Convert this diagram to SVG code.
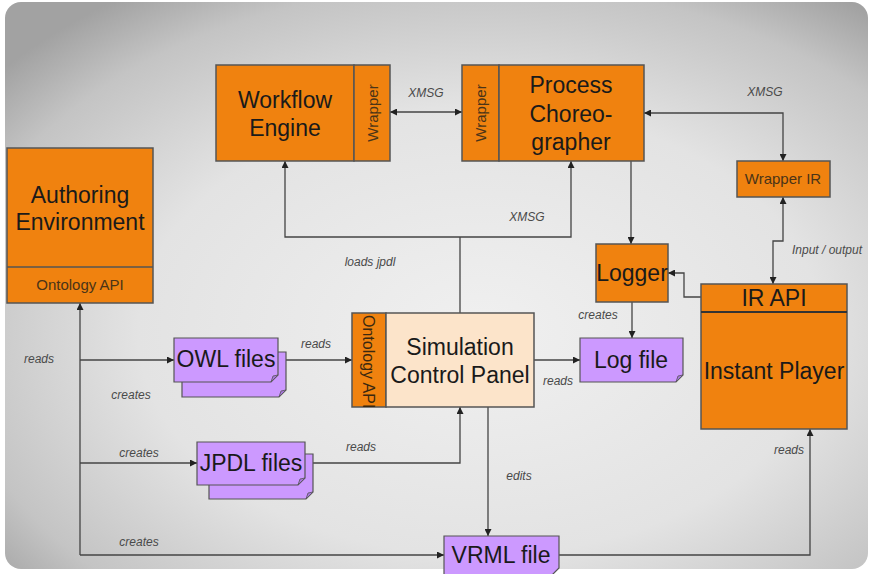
<svg xmlns="http://www.w3.org/2000/svg" width="869" height="574" viewBox="0 0 869 574">
<defs>
<radialGradient id="bg" cx="0.55" cy="0.58" r="0.72">
<stop offset="0" stop-color="#f0f0f0"/>
<stop offset="0.55" stop-color="#e3e3e3"/>
<stop offset="0.85" stop-color="#c4c4c4"/>
<stop offset="1" stop-color="#a2a2a2"/>
</radialGradient>
<marker id="ah" viewBox="0 0 10 10" refX="10" refY="5" markerWidth="7" markerHeight="7" markerUnits="userSpaceOnUse" orient="auto-start-reverse">
<path d="M0,0 L10,5 L0,10 Z" fill="#222"/>
</marker>
<clipPath id="ontClip"><rect x="352" y="313" width="34" height="94"/></clipPath>
</defs>
<style>
.box{fill:#F0820F;stroke:#555;stroke-width:1.5}
.panel{fill:#FCE4CA;stroke:#555;stroke-width:1.5}
.doc{fill:#CC99FF;stroke:#555;stroke-width:1.2}
.fold{fill:#a877dd;stroke:#555;stroke-width:0.8}
.t{font-family:"Liberation Sans",Arial,sans-serif;font-size:23px;fill:#1a1a1a;text-anchor:middle}
.s{font-family:"Liberation Sans",Arial,sans-serif;font-size:15px;fill:#4a3418;text-anchor:middle}
.l{font-family:"Liberation Sans",Arial,sans-serif;font-size:12px;font-style:italic;fill:#4a4a4a;text-anchor:middle}
.c{fill:none;stroke:#444;stroke-width:1.3}
</style>
<rect x="5" y="2" width="863" height="567" rx="16" ry="16" fill="url(#bg)"/>

<g id="connectors">
<path class="c" d="M390,112 H462" marker-start="url(#ah)" marker-end="url(#ah)"/>
<path class="c" d="M644,113 H783 V161" marker-start="url(#ah)" marker-end="url(#ah)"/>
<path class="c" d="M783,197 V241 H773 V284" marker-start="url(#ah)" marker-end="url(#ah)"/>
<path class="c" d="M460,313 V237"/>
<path class="c" d="M285,161 V237 H571 V161" marker-start="url(#ah)" marker-end="url(#ah)"/>
<path class="c" d="M631,161 V244" marker-end="url(#ah)"/>
<path class="c" d="M701,297 H684 V273 H668" marker-end="url(#ah)"/>
<path class="c" d="M632,302 V338" marker-end="url(#ah)"/>
<path class="c" d="M534,360 H580" marker-end="url(#ah)"/>
<path class="c" d="M80,555 V303" marker-end="url(#ah)"/>
<path class="c" d="M80,360 H174" marker-end="url(#ah)"/>
<path class="c" d="M80,463 H197" marker-end="url(#ah)"/>
<path class="c" d="M80,555 H444" marker-end="url(#ah)"/>
<path class="c" d="M286,360 H352" marker-end="url(#ah)"/>
<path class="c" d="M313,463 H460 V407" marker-end="url(#ah)"/>
<path class="c" d="M488,407 V536" marker-end="url(#ah)"/>
<path class="c" d="M559,555 H810 V429" marker-end="url(#ah)"/>
<text class="l" x="426" y="97">XMSG</text>
<text class="l" x="765" y="96">XMSG</text>
<text class="l" x="527" y="221">XMSG</text>
<text class="l" x="370" y="266">loads jpdl</text>
<text class="l" x="827" y="254">Input / output</text>
<text class="l" x="39" y="363">reads</text>
<text class="l" x="131" y="399">creates</text>
<text class="l" x="316" y="348">reads</text>
<text class="l" x="361" y="451">reads</text>
<text class="l" x="519" y="480">edits</text>
<text class="l" x="139" y="457">creates</text>
<text class="l" x="139" y="546">creates</text>
<text class="l" x="558" y="385">reads</text>
<text class="l" x="598" y="319">creates</text>
<text class="l" x="789" y="454">reads</text>
</g>

<g id="workflow-engine">
<rect class="box" x="216" y="65" width="138" height="96"/>
<rect class="box" x="354" y="65" width="36" height="96"/>
<text class="t" x="285" y="108">Workflow</text>
<text class="t" x="285" y="136">Engine</text>
<text class="s" transform="translate(378,113) rotate(-90)">Wrapper</text>
</g>

<g id="process-choreographer">
<rect class="box" x="462" y="65" width="37" height="96"/>
<rect class="box" x="499" y="65" width="145" height="96"/>
<text class="t" x="571" y="93">Process</text>
<text class="t" x="571" y="122">Choreo-</text>
<text class="t" x="571" y="150">grapher</text>
<text class="s" transform="translate(486,113) rotate(-90)">Wrapper</text>
</g>

<g id="wrapper-ir">
<rect class="box" x="737" y="161" width="93" height="36"/>
<text class="s" x="783" y="184">Wrapper IR</text>
</g>

<g id="authoring-environment">
<rect class="box" x="7" y="148" width="146" height="155"/>
<line x1="7" y1="267" x2="153" y2="267" stroke="#555" stroke-width="1.5"/>
<text class="t" x="80" y="203">Authoring</text>
<text class="t" x="80" y="230">Environment</text>
<text class="s" x="80" y="290">Ontology API</text>
</g>

<g id="logger">
<rect class="box" x="596" y="244" width="72" height="58"/>
<text class="t" x="632" y="281">Logger</text>
</g>

<g id="instant-player">
<rect class="box" x="701" y="284" width="146" height="145"/>
<line x1="701" y1="312" x2="847" y2="312" stroke="#333" stroke-width="2"/>
<text class="t" x="774" y="306">IR API</text>
<text class="t" x="774" y="379">Instant Player</text>
</g>

<g id="simulation-control-panel">
<rect class="box" x="352" y="313" width="34" height="94"/>
<rect class="panel" x="386" y="313" width="148" height="94"/>
<text class="t" x="460" y="355">Simulation</text>
<text class="t" x="460" y="383">Control Panel</text>
<g clip-path="url(#ontClip)">
<text class="s" style="font-size:16px;fill:#3a2810;text-anchor:start" transform="translate(363,315) rotate(90)">Ontology API</text>
</g>
</g>

<g id="owl-files">
<path class="doc" d="M182,352 H286 V390 L279,397 H182 Z"/>
<path class="fold" d="M279,397 L281,391 L286,390 Z"/>
<path class="doc" d="M174,338 H278 V375 L271,382 H174 Z"/>
<path class="fold" d="M271,382 L273,376 L278,375 Z"/>
<text class="t" x="226" y="367">OWL files</text>
</g>

<g id="jpdl-files">
<path class="doc" d="M209,454 H313 V492 L306,499 H209 Z"/>
<path class="fold" d="M306,499 L308,493 L313,492 Z"/>
<path class="doc" d="M197,442 H305 V478 L298,485 H197 Z"/>
<path class="fold" d="M298,485 L300,479 L305,478 Z"/>
<text class="t" x="251" y="471">JPDL files</text>
</g>

<g id="log-file">
<path class="doc" d="M580,338 H683 V375 L676,382 H580 Z"/>
<path class="fold" d="M676,382 L678,376 L683,375 Z"/>
<text class="t" x="631" y="368">Log file</text>
</g>

<g id="vrml-file">
<path class="doc" d="M444,536 H559 V568 L552,575 H444 Z"/>
<text class="t" x="501" y="563">VRML file</text>
</g>
</svg>
